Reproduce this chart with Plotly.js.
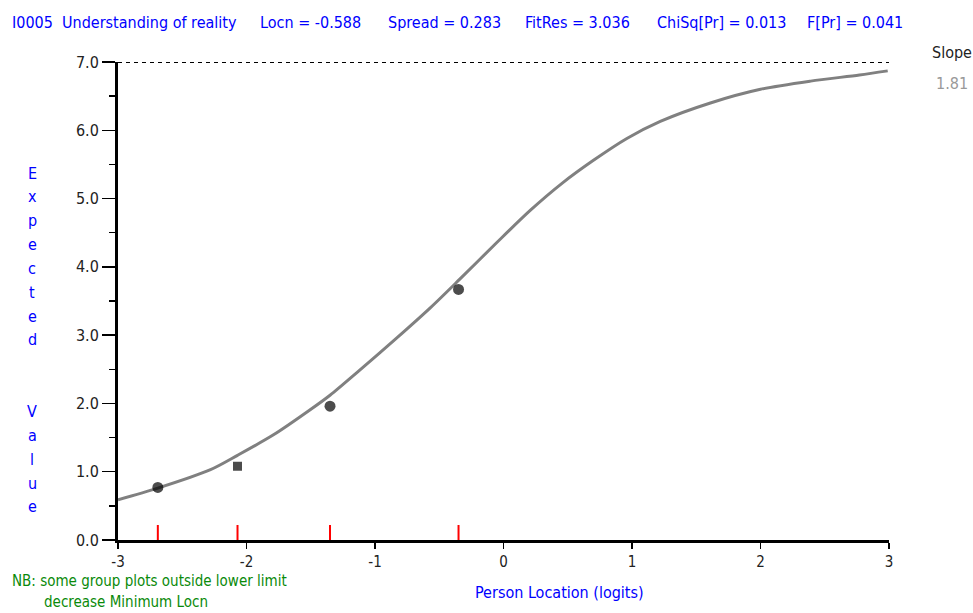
<!DOCTYPE html>
<html>
<head>
<meta charset="utf-8">
<script src="https://cdn.plot.ly/plotly-3.0.1.min.js"></script>
<style>html,body{margin:0;padding:0;background:#fff;}#chart{width:973px;height:613px;}</style>
</head>
<body>
<div id="chart"></div>
<script>
// ---- data ----
const curveX = [-3.0, -2.69, -2.28, -2.07, -1.79, -1.51, -1.35, -1.13, -0.83, -0.57, -0.34, -0.05, 0.21, 0.46, 0.70, 0.96, 1.22, 1.61, 2.0, 2.39, 2.77, 2.99];
const curveY = [0.59, 0.76, 1.03, 1.24, 1.54, 1.90, 2.12, 2.47, 2.96, 3.40, 3.82, 4.36, 4.83, 5.23, 5.56, 5.88, 6.13, 6.40, 6.60, 6.72, 6.81, 6.87];
const groupX = [-2.69, -2.07, -1.35, -0.35];
const groupY = [0.77, 1.08, 1.96, 3.67];
const groupSymbols = ["circle", "square", "circle", "circle"];
const maxScore = 7;
const xRange = [-3, 3];
const xTicks = [-3, -2, -1, 0, 1, 2, 3];
const yTicks = [0, 1, 2, 3, 4, 5, 6, 7];
const yTickLabels = ["0.0", "1.0", "2.0", "3.0", "4.0", "5.0", "6.0", "7.0"];
const headerItems = ["I0005  Understanding of reality", "Locn = -0.588", "Spread = 0.283", "FitRes = 3.036", "ChiSq[Pr] = 0.013", "F[Pr] = 0.041"];
const yTitle = "Expected  Value";
const xTitle = "Person Location (logits)";
const noteLines = ["NB: some group plots outside lower limit", "decrease Minimum Locn"];
const slopeLabel = "Slope";
const slopeValue = "1.81";

// ---- layout helpers (pixel -> paper) ----
const W = 973, H = 613, L = 118, R = 889, T = 62, B = 540;
const px = v => (v - L) / (R - L);
const py = v => (B - v) / (B - T);
const FONT = "Liberation Sans Narrow, Arial Narrow, DejaVu Sans Condensed, sans-serif";
const BLUE = "#0000ff";

// red group ticks built from group locations
const rtX = [], rtY = [];
groupX.forEach(g => { rtX.push(g, g, null); rtY.push(0, 0.22, null); });

const traces = [
  { x: xRange, y: [maxScore, maxScore], mode: "lines", line: {color: "#000", width: 2, dash: "4px,4px"}, hoverinfo: "skip", cliponaxis: false },
  { x: curveX, y: curveY, mode: "lines", line: {color: "#808080", width: 3, shape: "spline", smoothing: 0.8}, cliponaxis: false },
  { x: rtX, y: rtY, mode: "lines", line: {color: "#ff0000", width: 2}, cliponaxis: false },
  { x: groupX, y: groupY, mode: "markers", marker: {color: "#000", size: groupSymbols.map(s => s === "square" ? 9 : 11), symbol: groupSymbols, line: {width: 0}}, cliponaxis: false }
];

const headerPx = [10, 258, 386, 523, 655, 805];
const annotations = [];
headerItems.forEach((t, i) => annotations.push({
  text: t, xref: "paper", yref: "paper", x: px(headerPx[i]), y: py(22), xanchor: "left", yanchor: "middle",
  showarrow: false, font: {family: FONT, size: 16, color: BLUE}
}));
// vertical stacked y title
const letters = yTitle.split("");
letters.forEach((c, i) => {
  if (c.trim() === "") return;
  annotations.push({
    text: c, xref: "paper", yref: "paper", x: px(32), y: py(173 + i * 23.85), xanchor: "center", yanchor: "middle",
    showarrow: false, font: {family: FONT, size: 16, color: BLUE}
  });
});
annotations.push({ text: xTitle, xref: "paper", yref: "paper", x: px(559), y: py(592), xanchor: "center", yanchor: "middle",
  showarrow: false, font: {family: FONT, size: 16, color: BLUE} });
annotations.push({ text: noteLines[0], xref: "paper", yref: "paper", x: px(10), y: py(581), xanchor: "left", yanchor: "middle",
  showarrow: false, font: {family: FONT, size: 15, color: "#0a8a0a"} });
annotations.push({ text: noteLines[1], xref: "paper", yref: "paper", x: px(42), y: py(602), xanchor: "left", yanchor: "middle",
  showarrow: false, font: {family: FONT, size: 15, color: "#0a8a0a"} });
annotations.push({ text: slopeLabel, xref: "paper", yref: "paper", x: px(952), y: py(52), xanchor: "center", yanchor: "middle",
  showarrow: false, font: {family: FONT, size: 16, color: "#222"} });
annotations.push({ text: slopeValue, xref: "paper", yref: "paper", x: px(952), y: py(84), xanchor: "center", yanchor: "middle",
  showarrow: false, font: {family: FONT, size: 16, color: "#999"} });

const layout = {
  width: W, height: H,
  margin: {l: L, r: W - R, t: T, b: H - B, pad: 0},
  paper_bgcolor: "#fff", plot_bgcolor: "#fff",
  showlegend: false,
  xaxis: {
    range: xRange, tickvals: xTicks, ticktext: xTicks.map(String), showgrid: false, zeroline: false,
    showline: true, linecolor: "#000", linewidth: 3, ticks: "outside", ticklen: 6, tickwidth: 1.5, tickcolor: "#000",
    tickfont: {family: FONT, size: 15, color: "#222"}, fixedrange: true
  },
  yaxis: {
    range: [0, maxScore], tickvals: yTicks, ticktext: yTickLabels, showgrid: false, zeroline: false,
    showline: true, linecolor: "#000", linewidth: 3, ticks: "outside", ticklen: 13, tickwidth: 1.5, tickcolor: "#000",
    minor: {dtick: 0.5, ticks: "outside", ticklen: 6, tickwidth: 1.5, tickcolor: "#000", showgrid: false},
    tickfont: {family: FONT, size: 16, color: "#222"}, fixedrange: true
  },
  annotations: annotations
};

Plotly.newPlot("chart", traces, layout, {displayModeBar: false, staticPlot: true});
</script>
</body>
</html>
